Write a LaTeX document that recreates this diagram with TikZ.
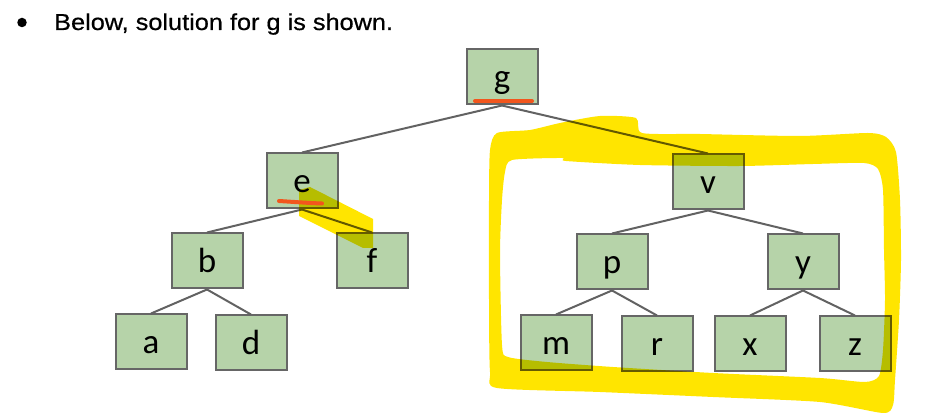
\documentclass[tikz,border=0pt]{standalone}
\usepackage{fontspec}
\setmainfont{Liberation Sans}[FakeStretch=1.1, FakeBold=0.6]
\newfontfamily\nodefont{Carlito}
\definecolor{boxfill}{HTML}{B6D3A9}
\definecolor{boxline}{HTML}{666666}
\definecolor{edgegray}{HTML}{626262}
\definecolor{marker}{HTML}{FFE500}
\definecolor{pen}{HTML}{F2561D}
\begin{document}
\begin{tikzpicture}[x=1pt,y=-1pt,
  treenode/.style={draw=boxline, fill=boxfill, line width=2pt,
    minimum width=71pt, minimum height=55pt, inner sep=0pt,
    text height=24pt, text depth=0pt,
    font=\nodefont\fontsize{35}{35}\selectfont},
  branch/.style={draw=edgegray, line width=2pt},
  underline/.style={draw=pen, line width=4pt, line cap=round}]
\useasboundingbox (0,0) rectangle (940,419);

% heading line
\node[circle, fill=black, inner sep=0pt, minimum size=9.5pt] (bullet) at (22,22.5) {};
\node[anchor=base west, inner sep=0pt, font=\fontsize{23}{23}\selectfont] (heading) at (54,30) {Below, solution for g is shown.};

% tree nodes
\node[treenode] (g) at (502,77) {g};
\node[treenode] (e) at (302,181) {e};
\node[treenode] (v) at (708,182) {v};
\node[treenode] (b) at (207,261) {b};
\node[treenode] (f) at (372,261) {f};
\node[treenode] (p) at (612,262) {p};
\node[treenode] (y) at (803,262) {y};
\node[treenode] (a) at (151,342) {a};
\node[treenode] (d) at (251,343) {d};
\node[treenode] (m) at (556,343) {m};
\node[treenode] (r) at (657,344) {r};
\node[treenode] (x) at (750,344) {x};
\node[treenode] (z) at (855,344) {z};

% branches
\foreach \u/\w in {g/e, g/v, e/b, e/f, b/a, b/d, v/p, v/y, p/m, p/r, y/x, y/z}
  \draw[branch] (\u.south) -- (\w.north);

% highlighter strokes
\begin{scope}[blend mode=multiply]
  \fill[marker, even odd rule]
    plot[smooth cycle, tension=0.4] coordinates {
      (489,200) (490,150) (497,133) (530,130) (560,123) (600,116) (636,118)
      (642,133) (700,134) (800,136) (868,133) (886,137) (896,152) (900,200)
      (901,260) (899,320) (895,380) (893,405) (883,413) (820,402) (713,397)
      (600,392) (497,388) (490,372) (489,300)}
    plot[smooth cycle, tension=0.4] coordinates {
      (512,160) (562,158) (566,161) (640,165) (740,166) (813,164) (864,163)
      (878,169) (883,190) (884,250) (885,300) (883,350) (879,376) (865,382)
      (820,378) (713,373) (613,367) (547,362) (508,357) (502,345) (500,253)
      (502,200) (505,172)};
  \fill[marker] (299,190) -- (310,187) -- (373,219) -- (373,248)
    -- (363,248) -- (299,216) -- cycle;
\end{scope}

% pen marks
\draw[underline] (475,101) -- (532,101);
\draw[underline] (279,201) .. controls (295,202) and (308,203) .. (322,203.5);
\end{tikzpicture}
\end{document}
